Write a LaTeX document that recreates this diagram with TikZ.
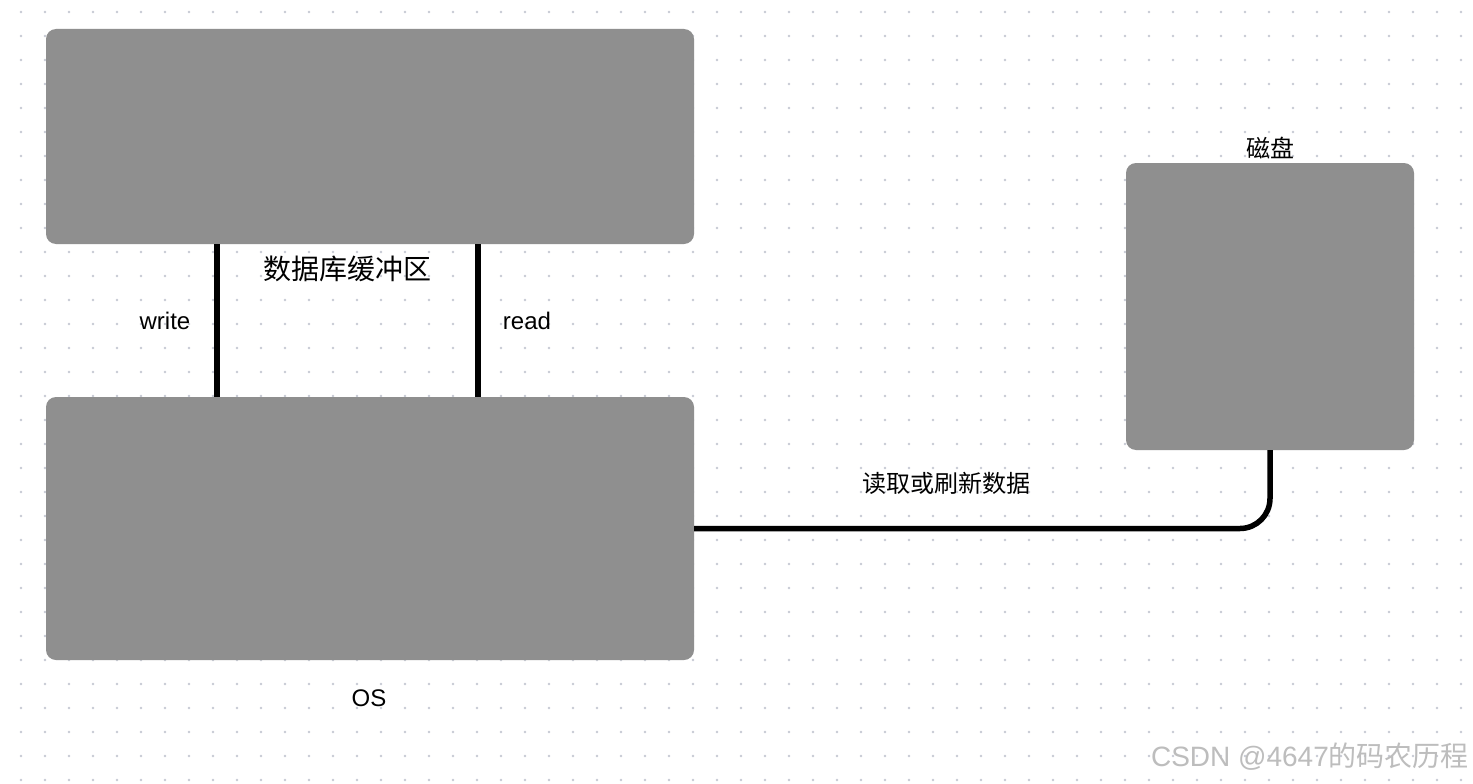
\documentclass[tikz,border=0pt]{standalone}
\usepackage{fontspec}
\setmainfont{Liberation Sans}
\newfontfamily\cjk{Noto Sans CJK SC}
\usetikzlibrary{positioning}

\definecolor{boxgray}{HTML}{8F8F8F}
\definecolor{dotgray}{HTML}{C6CAD3}
\definecolor{markgray}{HTML}{BDBDBD}

\tikzset{
  block/.style={rectangle, rounded corners=10pt, fill=boxgray, inner sep=0pt, outer sep=0pt},
  link/.style={line width=5.5pt, draw=black},
  lbl/.style={inner sep=0pt, font=\fontsize{24}{28}\selectfont},
}

\begin{document}
\begin{tikzpicture}[x=1pt, y=-1pt]
		\useasboundingbox (0,0) rectangle (1473,784);
		\fill[white] (0,0) rectangle (1473,784);
		
		% Siatka kropek
		\foreach \i in {0,...,60} {
			\foreach \j in {0,...,32} {
				\fill[dotgray] (21+24*\i, 12+24*\j) circle (1.3pt);
			}
		}
		
		% Bloki
		\node[block, minimum width=648pt, minimum height=215pt] (buf) at (370,136.5) {};
		\node[block, minimum width=648pt, minimum height=263pt] (os) at (370,528.5) {};
		\node[block, minimum width=288pt, minimum height=287pt] (disk) at (1270,306.5) {};
		
		% Pozycje linii write/read
		\coordinate (wx) at (217,0);
		\coordinate (rx) at (478,0);
		
		% Połączenia
		\draw[link] (buf.south -| wx) -- (os.north -| wx);
		\draw[link] (buf.south -| rx) -- (os.north -| rx);
		\draw[link, rounded corners=30pt] (os.east) -| (disk.south);
		
		% Etykiety
		\node[lbl, font=\cjk\fontsize{28}{32}\selectfont] (buflbl) at (347,269) {数据库缓冲区};
		\node[lbl] (wlbl) at (165,321) {write};
		\node[lbl] (rlbl) at (527,321) {read};
		\node[lbl, font=\cjk\fontsize{24}{28}\selectfont] (disklbl) at (1270,148) {磁盘};
		\node[lbl, font=\cjk\fontsize{24}{28}\selectfont] (iolbl) at (946,483) {读取或刷新数据};
		\node[lbl] (oslbl) at (369,698) {OS};
		
		% Znak wodny
		\node[lbl, text=markgray, font=\fontsize{28}{32}\selectfont] (mark) at (1310,757) {CSDN @4647{\cjk 的码农历程}};
	\end{tikzpicture}
\end{document}
